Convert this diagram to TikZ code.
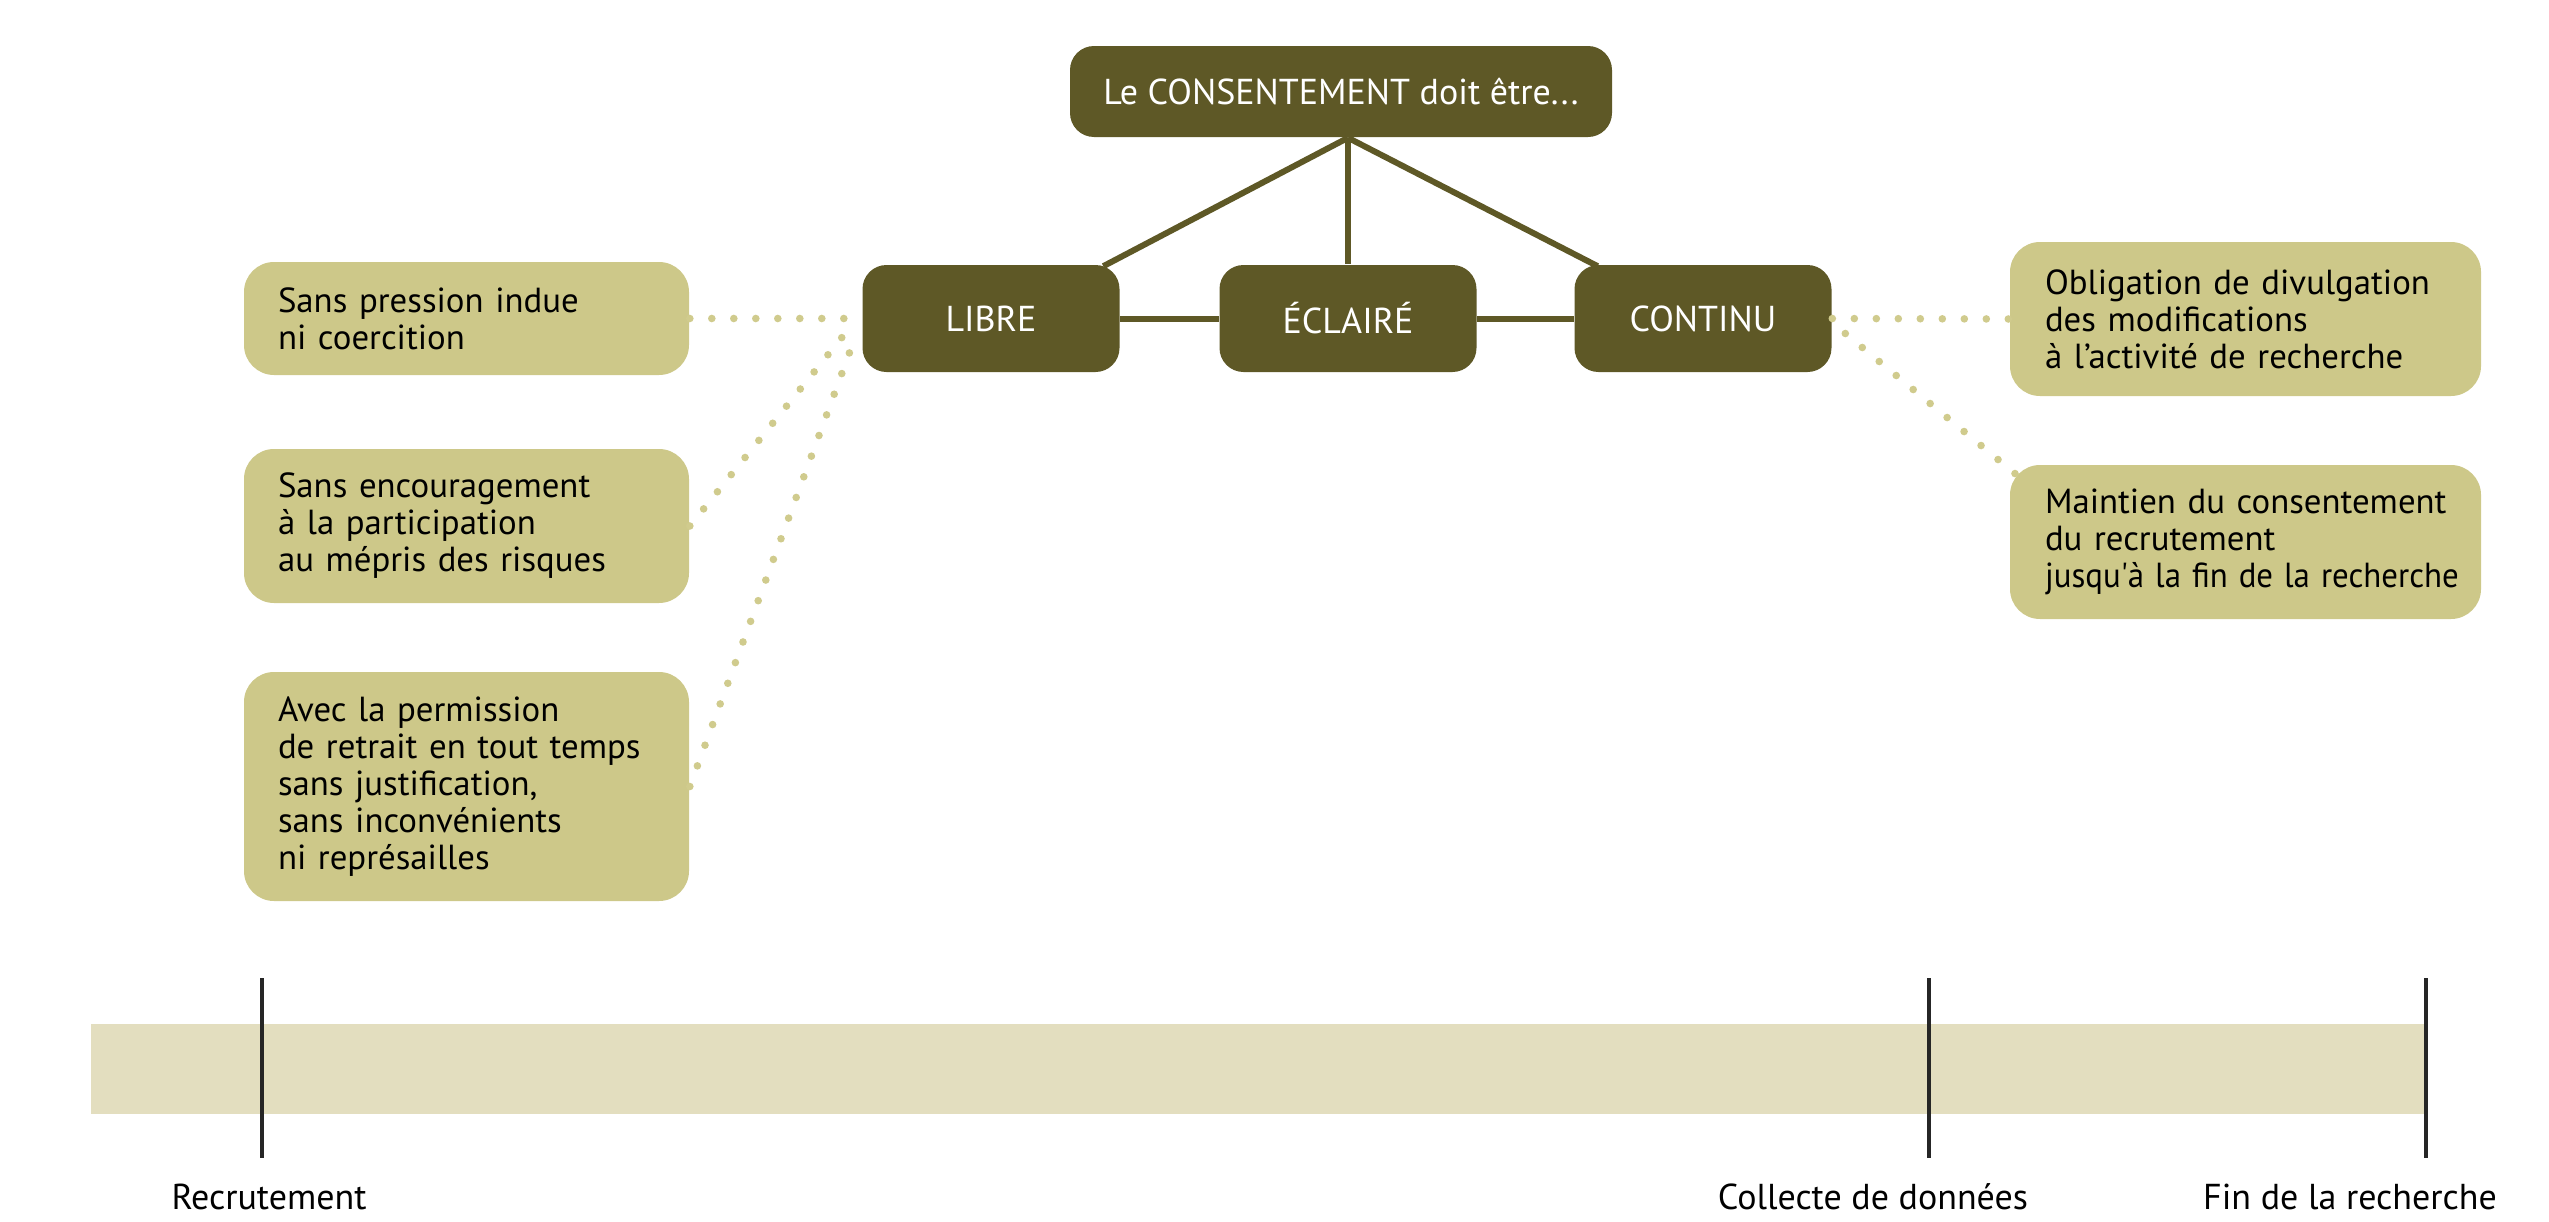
\documentclass[tikz,border=0pt]{standalone}
\usepackage{fontspec}
\usepackage{graphicx}
\setmainfont{PT Sans}
\usetikzlibrary{calc,backgrounds}
\definecolor{darkol}{HTML}{5E5826}
\definecolor{lightol}{HTML}{CDC889}
\definecolor{dotcol}{HTML}{D0CB8D}
\definecolor{barcol}{HTML}{E3DEBF}
\begin{document}
\begin{tikzpicture}[x=0.25pt,y=-0.25pt,
  darkbox/.style={rectangle, rounded corners=6pt, fill=darkol, text=white,
    font=\fontsize{9}{10}\selectfont, inner sep=0pt},
  lightbox/.style={rectangle, rounded corners=7.5pt, fill=lightol, text=black,
    font=\fontsize{8.7}{9.25}\selectfont, align=left, inner xsep=8.5pt, inner ysep=0pt},
  solidlink/.style={draw=darkol, line width=1.5pt},
  dotlink/.style={draw=dotcol, line width=1.9pt, line cap=round, dash pattern=on 0pt off 5.5pt},
  ticklink/.style={draw=black!85, line width=1.2pt},
  tlabel/.style={font=\fontsize{9}{10}\selectfont, anchor=base, inner sep=0pt}]
\useasboundingbox (0,0) rectangle (2549,1221);

% dark nodes
\node[darkbox, minimum width=135.5pt, minimum height=22.75pt] (top) at (1341,91.5) {Le CONSENTEMENT doit être...};
\node[darkbox, minimum width=64.25pt, minimum height=26.75pt] (libre) at (991,318.5) {LIBRE};
\node[darkbox, minimum width=64.25pt, minimum height=26.75pt] (eclaire) at (1348,318.5) {ÉCLAIRÉ};
\node[darkbox, minimum width=64.25pt, minimum height=26.75pt] (continu) at (1703,318.5) {CONTINU};

% light boxes
\node[lightbox, text width=94.25pt, minimum height=28.25pt] (b1) at (466.5,318.5) {\mbox{Sans pression indue}\\ni coercition};
\node[lightbox, text width=94.25pt, minimum height=38.5pt] (b2) at (466.5,526) {\mbox{Sans encouragement}\\\mbox{à la participation}\\\mbox{au mépris des risques}};
\node[lightbox, text width=94.25pt, minimum height=57.25pt] (b3) at (466.5,786.5) {\mbox{Avec la permission}\\\mbox{de retrait en tout temps}\\\mbox{sans justification,}\\\mbox{sans inconvénients}\\\mbox{ni représailles}};
\node[lightbox, inner xsep=8.75pt, text width=100.25pt, minimum height=38.5pt] (b4) at (2245.5,319) {\mbox{Obligation de divulgation}\\\mbox{des modifications}\\\mbox{à l’activité de recherche}};
\node[lightbox, inner xsep=8.75pt, text width=100.25pt, minimum height=38.5pt] (b5) at (2245.5,542) {\mbox{Maintien du consentement}\\\mbox{du recrutement}\\\scalebox{0.945}[1]{jusqu\textquotesingle à la fin de la recherche}};

\begin{scope}[on background layer]
  \coordinate (topfoot) at (eclaire.north |- top.south);
  \draw[solidlink] (topfoot) -- ($(libre.north east)+(-17,2)$);
  \draw[solidlink] (topfoot) -- (eclaire.north);
  \draw[solidlink] (topfoot) -- ($(continu.north west)+(24,2)$);
  \draw[solidlink] (libre.east) -- (eclaire.west);
  \draw[solidlink] (eclaire.east) -- (continu.west);
\end{scope}

% dotted connectors
\draw[dotlink] (b1.east) -- (libre.west);
\draw[dotlink] (b2.east) -- ($(libre.west)+(-15,13)$);
\draw[dotlink] (b3.east) -- ($(libre.west)+(-7,20)$);
\draw[dotlink] (continu.east) -- (b4.west);
\draw[dotlink] ($(continu.east)+(13,15)$) -- ($(b5.north west)+(9,12)$);

% timeline
\fill[barcol] (91,1024) rectangle (2426,1114);
\draw[ticklink] (262,978) -- (262,1158);
\draw[ticklink] (1929,978) -- (1929,1158);
\draw[ticklink] (2426,978) -- (2426,1158);
\node[tlabel] (l1) at (269,1209) {Recrutement};
\node[tlabel] (l2) at (1873,1209) {Collecte de données};
\node[tlabel] (l3) at (2350,1209) {Fin de la recherche};
\end{tikzpicture}
\end{document}
